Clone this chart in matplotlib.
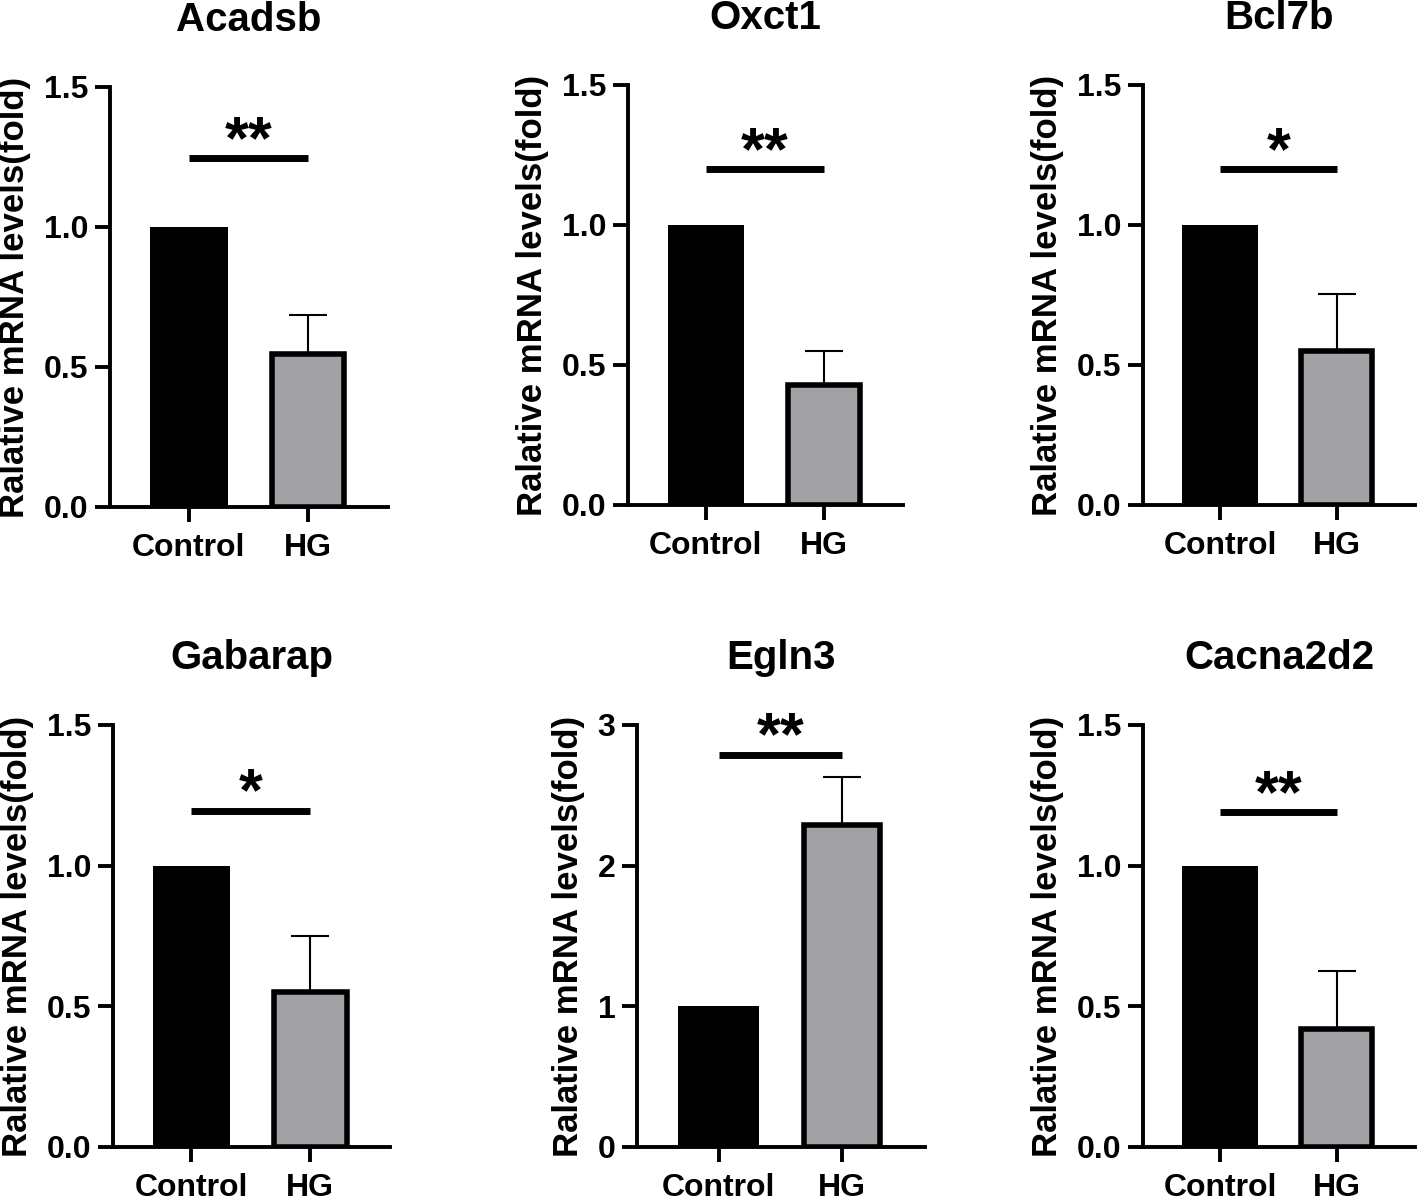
import matplotlib
matplotlib.use('Agg')
import matplotlib.pyplot as plt
import numpy as np

# data
genes = ['Acadsb', 'Oxct1', 'Bcl7b', 'Gabarap', 'Egln3', 'Cacna2d2']
groups = ['Control', 'HG']
control_mean = [1.0, 1.0, 1.0, 1.0, 1.0, 1.0]
hg_mean = [0.545, 0.43, 0.55, 0.55, 2.29, 0.42]
hg_err = [0.14, 0.12, 0.205, 0.20, 0.34, 0.205]
sig_y = [1.245, 1.20, 1.20, 1.196, 2.79, 1.19]
sig_text = ['**', '**', '*', '*', '**', '**']
y_max = [1.5, 1.5, 1.5, 1.5, 3, 1.5]
y_step = [0.5, 0.5, 0.5, 0.5, 1, 0.5]
y_fmt = ['%.1f', '%.1f', '%.1f', '%.1f', '%d', '%.1f']

# panel boxes in pixels: left, top, right, bottom
boxes = [(110, 87, 388, 507), (628, 85, 903, 505), (1143, 85, 1415, 505),
         (113, 725, 390, 1147), (637, 725, 925, 1147), (1143, 725, 1415, 1147)]

W, H = 1417, 1201
plt.rcParams['font.family'] = ['Liberation Sans', 'DejaVu Sans']
plt.rcParams['font.weight'] = 'bold'

fig = plt.figure(figsize=(W/100, H/100), dpi=100)

for i, g in enumerate(genes):
    l, t, r, b = boxes[i]
    ax = fig.add_axes([l/W, 1-b/H, (r-l)/W, (b-t)/H])
    x = np.arange(len(groups))
    ax.bar(x[0], control_mean[i], width=0.65, color='black', edgecolor='black', linewidth=0, zorder=2)
    ax.errorbar(x[1], hg_mean[i], yerr=[[0], [hg_err[i]]], fmt='none', ecolor='black',
                elinewidth=1.5, capsize=14, capthick=1.5, zorder=1)
    ax.bar(x[1], hg_mean[i], width=0.61, color='#a1a1a6', edgecolor='black', linewidth=4, zorder=2)
    # significance bar
    ax.plot([0, 1], [sig_y[i], sig_y[i]], color='black', lw=5, solid_capstyle='butt', clip_on=False)
    ax.text(0.5, sig_y[i], sig_text[i], ha='center', va='baseline', fontsize=44, fontweight='bold')

    ax.set_xlim(-0.66, 1.67)
    ax.set_ylim(0, y_max[i])
    ticks = np.arange(0, y_max[i] + 1e-9, y_step[i])
    ax.set_yticks(ticks)
    ax.set_yticklabels([y_fmt[i] % v for v in ticks])
    ax.set_xticks(x)
    ax.set_xticklabels(groups)
    for s in ['top', 'right']:
        ax.spines[s].set_visible(False)
    for s in ['left', 'bottom']:
        ax.spines[s].set_linewidth(2.8)
    ax.tick_params(axis='both', length=10.5, width=2.8, labelsize=23)
    ax.tick_params(axis='y', pad=5)
    ax.tick_params(axis='x', pad=8)
    for lab in ax.get_xticklabels() + ax.get_yticklabels():
        lab.set_fontweight('bold')
    ax.set_ylabel('Ralative mRNA levels(fold)', fontsize=25, fontweight='bold', labelpad=9)
    ax.set_title(g, fontsize=29, fontweight='bold', pad=40)

plt.savefig('out.png', dpi=100)
plt.close()
